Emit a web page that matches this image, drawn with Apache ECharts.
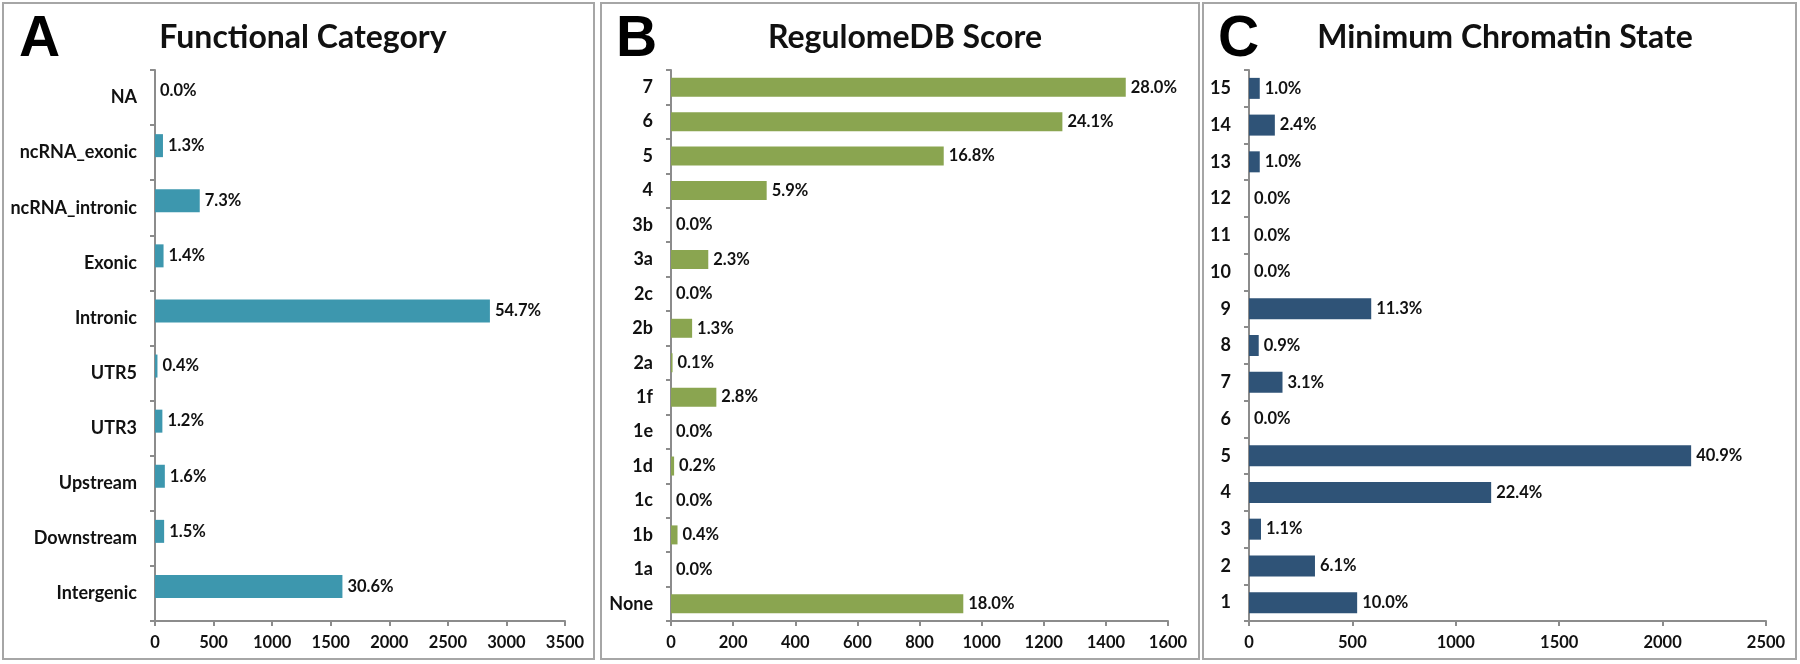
<!DOCTYPE html>
<html>
<head>
<meta charset="utf-8">
<script src="https://cdn.jsdelivr.net/npm/echarts@6/dist/echarts.min.js"></script>
<style>
html,body{margin:0;padding:0;background:#fff;}
#chart{width:1800px;height:664px;}
</style>
</head>
<body>
<div id="chart"></div>
<script>
// Panel A: Functional Category
const catA = ['NA','ncRNA_exonic','ncRNA_intronic','Exonic','Intronic','UTR5','UTR3','Upstream','Downstream','Intergenic'];
const valA = [0,68,382,73,2859,21,63,84,78,1600];
const pctA = ['0.0%','1.3%','7.3%','1.4%','54.7%','0.4%','1.2%','1.6%','1.5%','30.6%'];
// Panel B: RegulomeDB Score
const catB = ['7','6','5','4','3b','3a','2c','2b','2a','1f','1e','1d','1c','1b','1a','None'];
const valB = [1464,1260,878,308,0,120,0,68,5,146,0,10,0,21,0,941];
const pctB = ['28.0%','24.1%','16.8%','5.9%','0.0%','2.3%','0.0%','1.3%','0.1%','2.8%','0.0%','0.2%','0.0%','0.4%','0.0%','18.0%'];
// Panel C: Minimum Chromatin State
const catC = ['15','14','13','12','11','10','9','8','7','6','5','4','3','2','1'];
const valC = [52,125,52,0,0,0,591,47,162,0,2138,1171,58,319,523];
const pctC = ['1.0%','2.4%','1.0%','0.0%','0.0%','0.0%','11.3%','0.9%','3.1%','0.0%','40.9%','22.4%','1.1%','6.1%','10.0%'];
// Axis ticks
const xMaxA = 3500, xStepA = 500;
const xMaxB = 1600, xStepB = 200;
const xMaxC = 2500, xStepC = 500;

const FONT = 'Lato';
const axisColor = '#8c8c8c';
const txt = '#111';

function xAx(gi, max, step){
  return {type:'value', gridIndex:gi, min:0, max:max, interval:step,
    axisLine:{show:true, lineStyle:{color:axisColor, width:2}},
    axisTick:{show:true, length:5, lineStyle:{color:axisColor, width:2}},
    splitLine:{show:false},
    axisLabel:{fontFamily:FONT, fontWeight:'bold', fontSize:16.5, color:txt, margin:13,
      formatter:v => String(v)}};
}
function yAx(gi, cats){
  return {type:'category', gridIndex:gi, data:cats, inverse:true,
    axisLine:{show:true, lineStyle:{color:axisColor, width:2}},
    axisTick:{show:true, length:5, lineStyle:{color:axisColor, width:2}},
    axisLabel:{fontFamily:FONT, fontWeight:'bold', fontSize:18, color:txt, margin:18}};
}
function lbl(pcts){
  return {show:true, position:'right', distance:5, fontFamily:FONT, fontWeight:'bold', fontSize:16.5, color:txt,
    formatter:p => pcts[p.dataIndex]};
}

const chart = echarts.init(document.getElementById('chart'), null, {renderer:'canvas'});
chart.setOption({
  animation:false,
  backgroundColor:'#fff',
  title:[
    {text:'Functional Category', left:298, top:17, textAlign:'center', textStyle:{fontFamily:FONT, fontWeight:'bold', fontSize:32, color:txt}},
    {text:'RegulomeDB Score', left:900, top:17, textAlign:'center', textStyle:{fontFamily:FONT, fontWeight:'bold', fontSize:32, color:txt}},
    {text:'Minimum Chromatin State', left:1500, top:17, textAlign:'center', textStyle:{fontFamily:FONT, fontWeight:'bold', fontSize:32, color:txt}},
    {text:'A', left:14, top:7, textStyle:{fontFamily:'Liberation Sans', fontWeight:'bold', fontSize:57, color:'#000'}},
    {text:'B', left:611, top:7, textStyle:{fontFamily:'Liberation Sans', fontWeight:'bold', fontSize:57, color:'#000'}},
    {text:'C', left:1213, top:7, textStyle:{fontFamily:'Liberation Sans', fontWeight:'bold', fontSize:57, color:'#000'}}
  ],
  grid:[
    {left:155, top:70, width:410, height:551},
    {left:671, top:70, width:497, height:551},
    {left:1249, top:70, width:517, height:551}
  ],
  xAxis:[xAx(0,xMaxA,xStepA), xAx(1,xMaxB,xStepB), xAx(2,xMaxC,xStepC)],
  yAxis:[yAx(0,catA), yAx(1,catB), yAx(2,catC)],
  series:[
    {type:'bar', xAxisIndex:0, yAxisIndex:0, data:valA, barWidth:23, barGap:'0%',
      itemStyle:{color:'#3d97ae'}, label:lbl(pctA)},
    {type:'bar', xAxisIndex:0, yAxisIndex:0, data:catA.map(()=>'-'), barWidth:14, barGap:'0%',
      itemStyle:{color:'transparent'}, silent:true},
    {type:'bar', xAxisIndex:1, yAxisIndex:1, data:valB, barWidth:19,
      itemStyle:{color:'#8aa550'}, label:lbl(pctB)},
    {type:'bar', xAxisIndex:2, yAxisIndex:2, data:valC, barWidth:21,
      itemStyle:{color:'#2f5377'}, label:lbl(pctC)}
  ],
  graphic:[
    {type:'rect', shape:{x:3, y:3, width:591, height:656}, style:{fill:'none', stroke:'#a6a6a6', lineWidth:2}, silent:true},
    {type:'rect', shape:{x:601, y:3, width:598, height:656}, style:{fill:'none', stroke:'#a6a6a6', lineWidth:2}, silent:true},
    {type:'rect', shape:{x:1203, y:3, width:593, height:656}, style:{fill:'none', stroke:'#a6a6a6', lineWidth:2}, silent:true}
  ]
});
</script>
</body>
</html>
